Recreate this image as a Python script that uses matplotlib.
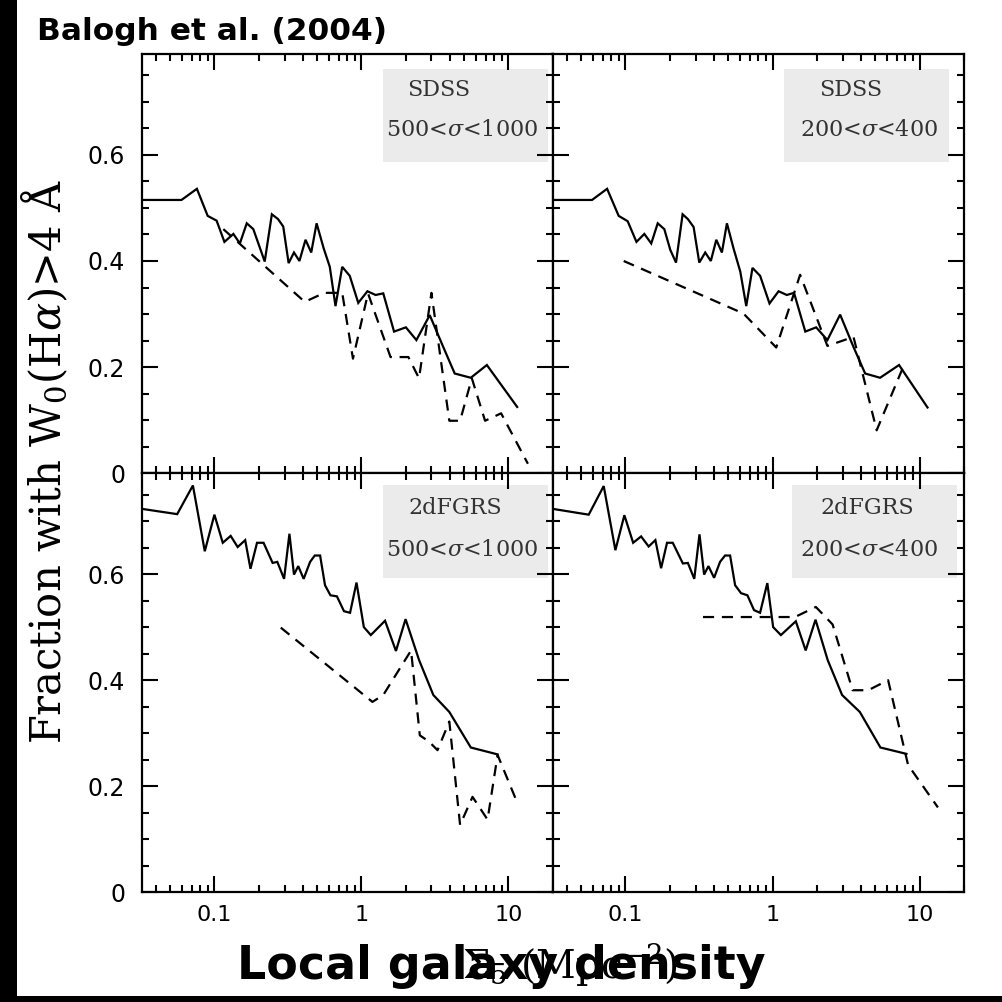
import matplotlib
matplotlib.use("Agg")
import matplotlib.pyplot as plt
from matplotlib.patches import Rectangle
from matplotlib.ticker import LogLocator, MultipleLocator, FixedLocator, NullFormatter

plt.rcParams['mathtext.fontset'] = 'dejavuserif'

# ---- data ----
# SDSS, 500<sigma<1000 (top left)
sdss_hi_solid_x = [0.032, 0.0597, 0.076, 0.090, 0.1035, 0.117, 0.1346, 0.149, 0.166, 0.184,
                   0.220, 0.246, 0.271, 0.294, 0.320, 0.348, 0.379, 0.417, 0.456, 0.496,
                   0.554, 0.610, 0.667, 0.741, 0.834, 0.953, 1.10, 1.25, 1.41, 1.67,
                   2.01, 2.37, 2.92, 3.61, 4.32, 5.56, 7.15, 11.5]
sdss_hi_solid_y = [0.515, 0.515, 0.536, 0.485, 0.476, 0.436, 0.451, 0.433, 0.471, 0.460,
                   0.399, 0.488, 0.479, 0.465, 0.396, 0.416, 0.400, 0.440, 0.416, 0.471,
                   0.424, 0.389, 0.315, 0.389, 0.372, 0.321, 0.343, 0.336, 0.339, 0.267,
                   0.275, 0.251, 0.298, 0.238, 0.188, 0.180, 0.204, 0.125]
sdss_hi_dash_x = [0.115, 0.412, 0.560, 0.741, 0.877, 1.11, 1.58, 2.09, 2.47, 3.00,
                  3.97, 4.70, 5.65, 6.95, 8.94, 13.6]
sdss_hi_dash_y = [0.460, 0.323, 0.340, 0.340, 0.216, 0.339, 0.219, 0.219, 0.179, 0.340,
                  0.099, 0.099, 0.179, 0.099, 0.113, 0.018]

# SDSS, 200<sigma<400 (top right)
sdss_lo_solid_x = [0.032, 0.0594, 0.0752, 0.0901, 0.1037, 0.119, 0.1346, 0.150, 0.166, 0.184,
                   0.202, 0.221, 0.245, 0.266, 0.291, 0.318, 0.349, 0.381, 0.415, 0.453,
                   0.490, 0.543, 0.604, 0.663, 0.731, 0.824, 0.954, 1.10, 1.25, 1.40,
                   1.67, 1.98, 2.36, 2.88, 3.55, 4.26, 5.38, 7.24, 11.3]
sdss_lo_solid_y = [0.515, 0.515, 0.536, 0.485, 0.475, 0.436, 0.451, 0.433, 0.471, 0.460,
                   0.421, 0.397, 0.488, 0.479, 0.464, 0.397, 0.416, 0.400, 0.440, 0.416,
                   0.471, 0.424, 0.380, 0.315, 0.387, 0.372, 0.320, 0.343, 0.336, 0.340,
                   0.267, 0.275, 0.251, 0.299, 0.238, 0.188, 0.180, 0.204, 0.124]
sdss_lo_dash_x = [0.0975, 0.635, 1.06, 1.54, 2.36, 3.55, 5.10, 7.74]
sdss_lo_dash_y = [0.400, 0.301, 0.237, 0.374, 0.240, 0.257, 0.081, 0.201]

# 2dFGRS, 500<sigma<1000 (bottom left)
tdf_hi_solid_x = [0.032, 0.0558, 0.0714, 0.0860, 0.100, 0.114, 0.129, 0.144, 0.162, 0.176,
                  0.195, 0.216, 0.249, 0.268, 0.298, 0.324, 0.348, 0.372, 0.405, 0.448,
                  0.482, 0.524, 0.566, 0.616, 0.682, 0.762, 0.838, 0.927, 1.04, 1.16,
                  1.45, 1.72, 2.00, 2.47, 3.09, 3.97, 5.56, 8.46]
tdf_hi_solid_y = [0.723, 0.713, 0.767, 0.643, 0.712, 0.659, 0.672, 0.651, 0.664, 0.610,
                  0.659, 0.659, 0.621, 0.623, 0.591, 0.676, 0.599, 0.615, 0.591, 0.623,
                  0.635, 0.635, 0.579, 0.560, 0.558, 0.530, 0.527, 0.584, 0.500, 0.485,
                  0.512, 0.455, 0.515, 0.438, 0.372, 0.340, 0.273, 0.260]
tdf_hi_dash_x = [0.283, 1.19, 1.41, 2.18, 2.50, 2.89, 3.30, 3.97, 4.70, 5.71,
                 7.23, 8.46, 11.2]
tdf_hi_dash_y = [0.499, 0.359, 0.372, 0.456, 0.296, 0.284, 0.268, 0.322, 0.127, 0.180,
                 0.137, 0.259, 0.177]

# 2dFGRS, 200<sigma<400 (bottom right)
tdf_lo_solid_x = [0.032, 0.0564, 0.0713, 0.0856, 0.0985, 0.113, 0.128, 0.144, 0.160, 0.175,
                  0.192, 0.210, 0.246, 0.266, 0.294, 0.319, 0.343, 0.367, 0.401, 0.440,
                  0.476, 0.515, 0.557, 0.611, 0.675, 0.749, 0.823, 0.922, 1.01, 1.14,
                  1.44, 1.68, 1.96, 2.37, 2.97, 3.92, 5.41, 8.13]
tdf_lo_solid_y = [0.723, 0.712, 0.766, 0.645, 0.711, 0.659, 0.671, 0.652, 0.664, 0.611,
                  0.659, 0.659, 0.620, 0.621, 0.591, 0.675, 0.599, 0.615, 0.593, 0.623,
                  0.635, 0.635, 0.579, 0.564, 0.560, 0.532, 0.527, 0.583, 0.500, 0.485,
                  0.511, 0.456, 0.514, 0.438, 0.372, 0.340, 0.273, 0.261]
tdf_lo_dash_x = [0.337, 1.42, 1.97, 2.56, 3.50, 4.47, 6.10, 8.34, 13.3]
tdf_lo_dash_y = [0.519, 0.519, 0.538, 0.505, 0.381, 0.381, 0.400, 0.240, 0.160]

survey_names = ['SDSS', 'SDSS', '2dFGRS', '2dFGRS']
sigma_ranges = [r'500<$\sigma$<1000', r'200<$\sigma$<400',
                r'500<$\sigma$<1000', r'200<$\sigma$<400']
y_ticks = [0, 0.2, 0.4, 0.6]
y_ticklabels = ['0', '0.2', '0.4', '0.6']
x_ticks = [0.1, 1, 10]
x_ticklabels = ['0.1', '1', '10']

panels = [
    (sdss_hi_solid_x, sdss_hi_solid_y, sdss_hi_dash_x, sdss_hi_dash_y),
    (sdss_lo_solid_x, sdss_lo_solid_y, sdss_lo_dash_x, sdss_lo_dash_y),
    (tdf_hi_solid_x, tdf_hi_solid_y, tdf_hi_dash_x, tdf_hi_dash_y),
    (tdf_lo_solid_x, tdf_lo_solid_y, tdf_lo_dash_x, tdf_lo_dash_y),
]

# ---- layout (pixels of a 1002x1002 canvas) ----
W = 1002.0
fig = plt.figure(figsize=(10.02, 10.02), dpi=100)

xl, xm, xr = 141.7, 552.5, 964.0
yt, ym, yb = 54.0, 473.3, 892.3
rects = [(xl, ym, xm, yt), (xm, ym, xr, yt), (xl, yb, xm, ym), (xm, yb, xr, ym)]
# label box (x0, x1, y0, y1 in axes fraction) and text positions
boxes = [(0.5875, 0.9893, 0.742, 0.964), (0.5626, 0.9636, 0.742, 0.964),
         (0.5875, 0.9893, 0.750, 0.972), (0.582, 0.983, 0.750, 0.972)]
name_pos = [(0.723, 0.914), (0.725, 0.914), (0.763, 0.917), (0.764, 0.917)]
sig_pos = [(0.780, 0.819), (0.769, 0.819), (0.780, 0.817), (0.769, 0.817)]

for i, (x0, y0, x1, y1) in enumerate(rects):
    ax = fig.add_axes([x0 / W, 1 - y0 / W, (x1 - x0) / W, (y0 - y1) / W])
    sx, sy, dx, dy = panels[i]
    ax.plot(sx, sy, color='black', lw=1.6, solid_joinstyle='miter')
    ax.plot(dx, dy, color='black', lw=1.6, dashes=(5, 3.5))
    ax.set_xscale('log')
    ax.set_xlim(0.032, 20)
    ax.set_ylim(0, 0.79)

    ax.xaxis.set_major_locator(FixedLocator(x_ticks))
    ax.xaxis.set_minor_locator(LogLocator(base=10, subs=range(2, 10)))
    ax.xaxis.set_minor_formatter(NullFormatter())
    ax.yaxis.set_major_locator(FixedLocator(y_ticks))
    ax.yaxis.set_minor_locator(MultipleLocator(0.05))
    ax.tick_params(which='both', direction='in', top=True, right=True, width=1.5)
    ax.tick_params(which='major', length=11.5)
    ax.tick_params(which='minor', length=5)
    for s in ax.spines.values():
        s.set_linewidth(1.6)

    if i in (2, 3):
        ax.set_xticks(x_ticks)
        ax.set_xticklabels(x_ticklabels, fontsize=16, family='DejaVu Sans')
        ax.tick_params(axis='x', which='major', pad=9)
    else:
        ax.set_xticklabels([])
    if i in (0, 2):
        ax.set_yticks(y_ticks)
        ax.set_yticklabels(y_ticklabels, fontsize=17, family='DejaVu Sans')
        ax.tick_params(axis='y', which='major', pad=12)
    else:
        ax.set_yticklabels([])

    bx0, bx1, by0, by1 = boxes[i]
    ax.add_patch(Rectangle((bx0, by0), bx1 - bx0, by1 - by0, transform=ax.transAxes,
                           facecolor='#ebebeb', edgecolor='none', zorder=0))
    ax.text(*name_pos[i], survey_names[i], transform=ax.transAxes, ha='center',
            va='center', fontsize=16, family='DejaVu Serif', color='#333333')
    ax.text(*sig_pos[i], sigma_ranges[i], transform=ax.transAxes, ha='center',
            va='center', fontsize=16, family='DejaVu Serif', color='#333333')

fig.text(45 / W, 1 - 462 / W, r'Fraction with W$_0$(H$\alpha$)>4 Å', rotation=90,
         ha='center', va='center', fontsize=30, family='DejaVu Serif')

fig.text(570 / W, 1 - 978 / W, r'$\Sigma_5$ (Mpc$^{-2}$)', ha='center', va='baseline',
         fontsize=28, family='DejaVu Serif')
fig.text(501 / W, 1 - 979 / W, 'Local galaxy density', ha='center', va='baseline',
         fontsize=33, fontweight='bold', family='DejaVu Sans')
fig.text(37 / W, 1 - 40 / W, 'Balogh et al. (2004)', ha='left', va='baseline',
         fontsize=22.5, fontweight='bold', family='DejaVu Sans')

# black strips at the left and bottom edges of the picture
fig.add_artist(Rectangle((0, 0), 17 / W, 1, transform=fig.transFigure,
                         facecolor='black', edgecolor='none'))
fig.add_artist(Rectangle((0, 0), 1, 6 / W, transform=fig.transFigure,
                         facecolor='black', edgecolor='none'))

fig.savefig('out.png', dpi=100)
